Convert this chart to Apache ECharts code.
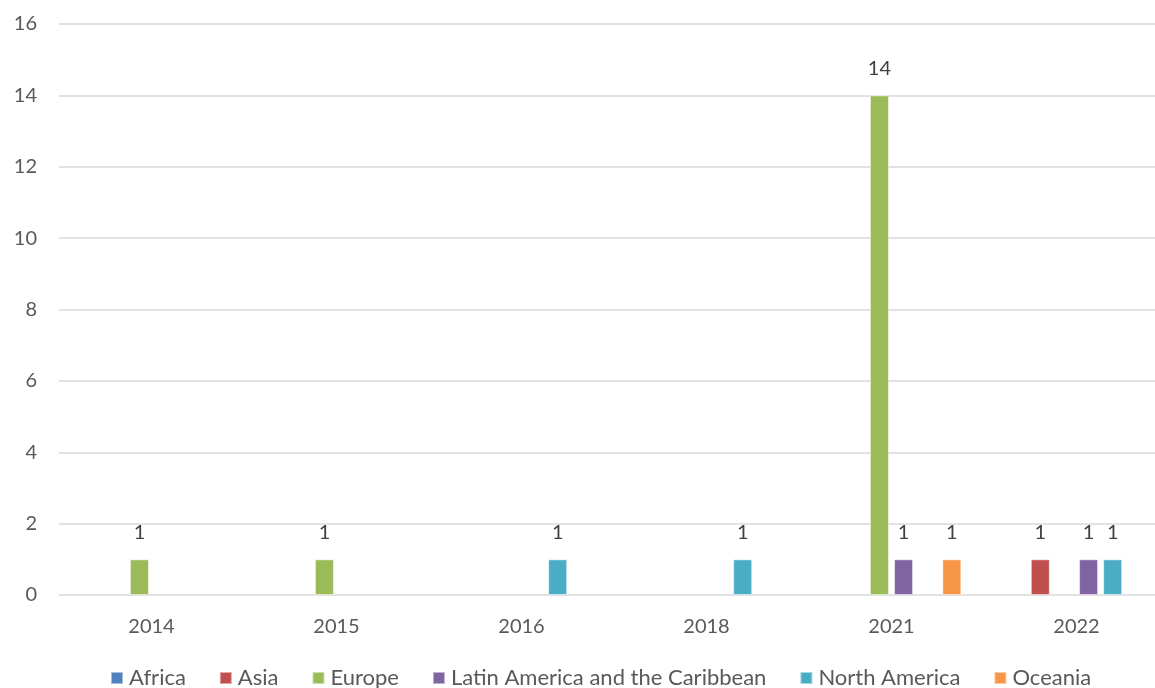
<!DOCTYPE html>
<html>
<head>
<meta charset="utf-8">
<script src="https://cdn.jsdelivr.net/npm/echarts@6/dist/echarts.min.js"></script>
<style>
html,body{margin:0;padding:0;background:#fff;}
#main{width:1155px;height:688px;}
</style>
</head>
<body>
<div id="main"></div>
<script>
var years = ['2014','2015','2016','2018','2021','2022'];
var regions = ['Africa','Asia','Europe','Latin America and the Caribbean','North America','Oceania'];
var colors = ['#4F81BD','#C0504D','#9BBB59','#8064A2','#4BACC6','#F79646'];
// '-' = no bar
var africa   = ['-','-','-','-','-','-'];
var asia     = ['-','-','-','-','-',1];
var europe   = [1,1,'-','-',14,'-'];
var latam    = ['-','-','-','-',1,1];
var namerica = ['-','-',1,1,'-',1];
var oceania  = ['-','-','-','-',1,'-'];
var seriesData = [africa,asia,europe,latam,namerica,oceania];

var font = 'Lato, "Open Sans", sans-serif';
var myChart = echarts.init(document.getElementById('main'));
var series = [];
for(var i=0;i<regions.length;i++){
    series.push({
        name:regions[i],
        type:'bar',
        data:seriesData[i],
        barWidth:19,
        barGap:'27%',
        itemStyle:{color:colors[i], borderColor:'rgba(255,255,255,0.5)', borderWidth:1},
        label:{show:true, position:'top', distance:17, color:'#404040', fontSize:20, fontFamily:font}
    });
}
var option = {
    animation:false,
    color:colors,
    grid:{left:59, top:24, width:1110, height:571, outerBoundsMode:'none', containLabel:false},
    legend:{
        data:regions,
        top:667,
        left:110,
        padding:0,
        itemWidth:12,
        itemHeight:12,
        itemGap:33,
        icon:'rect',
        textStyle:{color:'#595959', fontSize:22, fontFamily:font, padding:[0,0,0,1]}
    },
    xAxis:{
        type:'category',
        data:years,
        axisLine:{show:false},
        axisTick:{show:false},
        axisLabel:{color:'#595959', fontSize:20, fontFamily:font, margin:22}
    },
    yAxis:{
        type:'value',
        min:0,
        max:16,
        interval:2,
        axisLine:{show:false},
        axisTick:{show:false},
        axisLabel:{color:'#595959', fontSize:20, fontFamily:font, margin:22},
        splitLine:{lineStyle:{color:'#d9d9d9', width:1.5}}
    },
    series:series
};
myChart.setOption(option);
</script>
</body>
</html>
